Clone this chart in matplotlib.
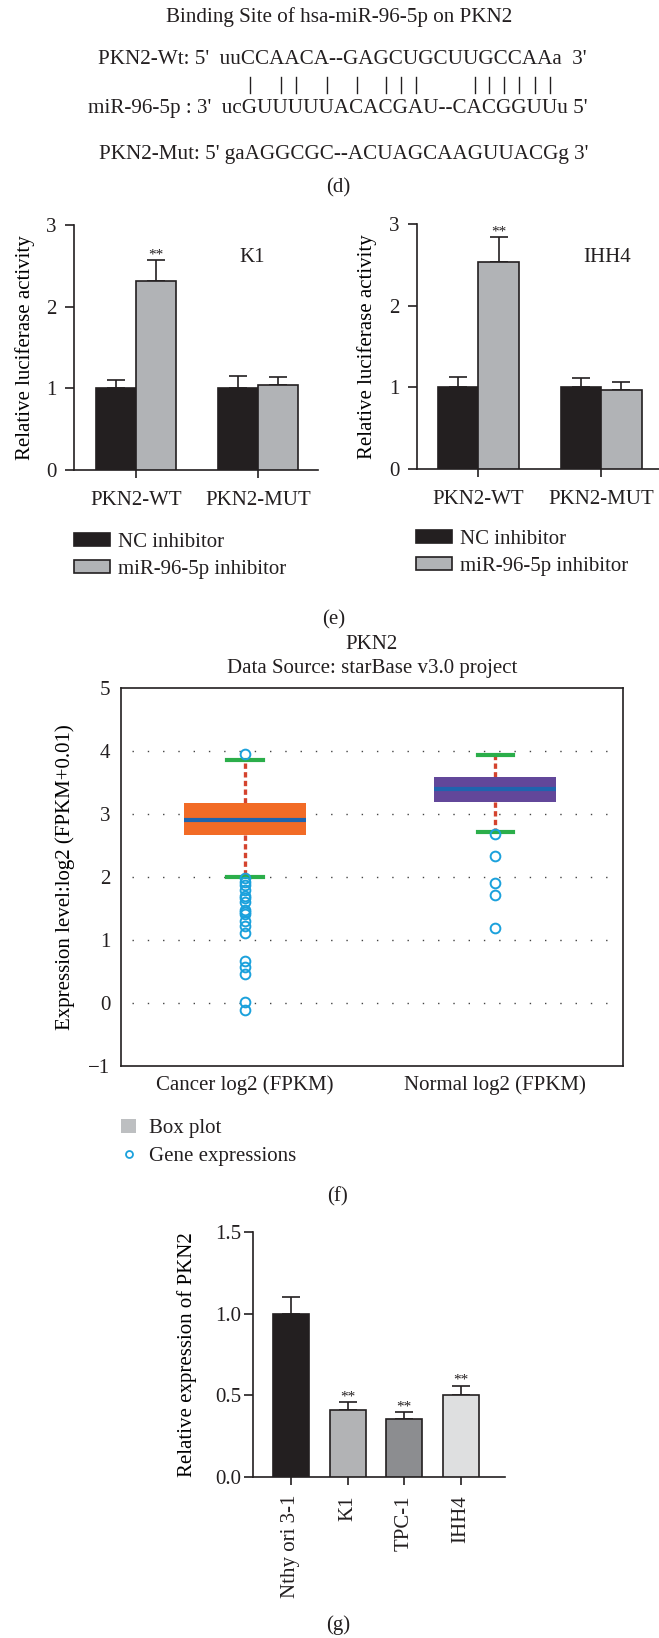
import matplotlib
matplotlib.use('Agg')
import matplotlib.pyplot as plt
from matplotlib.patches import Patch
from matplotlib.lines import Line2D
import numpy as np

# ---------------- data ----------------
d_title = "Binding Site of hsa-miR-96-5p on PKN2"
d_wt = "PKN2-Wt: 5'  uuCCAACA--GAGCUGCUUGCCAAa  3'"
d_mir_seq = "ucGUUUUUACACGAU--CACGGUUu"
d_mir = "miR-96-5p : 3'  " + d_mir_seq + " 5'"
d_mut = "PKN2-Mut: 5' gaAGGCGC--ACUAGCAAGUUACGg 3'"
d_pairs = [2, 4, 5, 7, 9, 11, 12, 13, 18, 19, 20, 21, 22, 23]  # paired bases of miR

e_groups = ['PKN2-WT', 'PKN2-MUT']
e_series = ['NC inhibitor', 'miR-96-5p inhibitor']
k1_nc = [1.00, 1.00]
k1_nc_err = [0.10, 0.15]
k1_inh = [2.31, 1.04]
k1_inh_err = [0.26, 0.10]
ihh4_nc = [1.00, 1.00]
ihh4_nc_err = [0.13, 0.12]
ihh4_inh = [2.53, 0.97]
ihh4_inh_err = [0.31, 0.10]

f_labels = ['Cancer log2 (FPKM)', 'Normal log2 (FPKM)']
f_q1 = [2.67, 3.19]
f_med = [2.90, 3.40]
f_q3 = [3.17, 3.59]
f_whislo = [2.00, 2.71]
f_whishi = [3.86, 3.94]
f_fliers_cancer = [3.96, 1.98, 1.92, 1.87, 1.79, 1.70, 1.66, 1.60, 1.48, 1.45,
                   1.42, 1.30, 1.22, 1.11, 0.67, 0.57, 0.46, 0.01, -0.11]
f_fliers_normal = [2.68, 2.33, 1.91, 1.72, 1.19]

g_cells = ['Nthy ori 3-1', 'K1', 'TPC-1', 'IHH4']
g_vals = [1.00, 0.41, 0.355, 0.50]
g_err = [0.10, 0.05, 0.045, 0.06]
g_sig = ['', '**', '**', '**']

# ---------------- style ----------------
W, H = 659, 1638
FS = 15
FS_D = 15.2
FS_STAR = 11
INK = '#231F20'
BLACK = '#231F20'
GRAY = '#B1B3B6'
plt.rcParams['font.family'] = ['Liberation Serif', 'DejaVu Serif']
plt.rcParams['text.color'] = INK
plt.rcParams['axes.edgecolor'] = INK
plt.rcParams['xtick.color'] = INK
plt.rcParams['ytick.color'] = INK
plt.rcParams['font.size'] = FS

fig = plt.figure(figsize=(W / 100, H / 100), dpi=100)


def rect(l, t, r, b):
    return [l / W, 1 - b / H, (r - l) / W, (b - t) / H]


def fx(x):
    return x / W


def fy(y):
    return 1 - y / H


# ---------------- panel d ----------------
fig.text(fx(339), fy(17), d_title, ha='center', va='center', fontsize=FS_D)
fig.text(fx(587), fy(60), d_wt, ha='right', va='center', fontsize=FS_D)
t_mir = fig.text(fx(588), fy(108), d_mir, ha='right', va='center', fontsize=FS_D)
fig.text(fx(588), fy(155), d_mut, ha='right', va='center', fontsize=FS_D)
fig.text(fx(338), fy(188), '(d)', ha='center', va='center', fontsize=FS)

fig.canvas.draw()
rend = fig.canvas.get_renderer()
bb = t_mir.get_window_extent(rend)
fp = t_mir.get_fontproperties()
start = d_mir.index(d_mir_seq)


def tw(s):
    return rend.get_text_width_height_descent(s, fp, ismath=False)[0]


for idx in d_pairs:
    xa = tw(d_mir[:start + idx])
    xb = tw(d_mir[:start + idx + 1])
    xc = (bb.x0 + (xa + xb) / 2) / fig.bbox.width
    fig.add_artist(Line2D([xc, xc], [fy(77), fy(93)], color=INK, lw=1.0,
                          transform=fig.transFigure))


# ---------------- panel e ----------------
def lucif(axrect, xlim, nc, nc_err, inh, inh_err, cell, cell_xy, label_x, leg_xy):
    ax = fig.add_axes(axrect)
    x = np.arange(len(e_groups))
    w = 0.328
    b1 = ax.bar(x - w / 2, nc, w, color=BLACK, edgecolor=INK, lw=1.2, label=e_series[0], zorder=3)
    b2 = ax.bar(x + w / 2, inh, w, color=GRAY, edgecolor=INK, lw=1.2, label=e_series[1], zorder=3)
    ax.errorbar(x - w / 2, nc, yerr=[np.zeros(len(nc)), nc_err], fmt='none', ecolor=INK,
                elinewidth=1.2, capsize=6.8, capthick=1.2, zorder=2)
    ax.errorbar(x + w / 2, inh, yerr=[np.zeros(len(inh)), inh_err], fmt='none', ecolor=INK,
                elinewidth=1.2, capsize=6.8, capthick=1.2, zorder=2)
    ax.text(x[0] + w / 2, inh[0] + inh_err[0] + 0.063, '**', ha='center', va='center',
            fontsize=FS_STAR)
    ax.set_ylim(0, 3)
    ax.set_xlim(*xlim)
    ax.set_yticks([0, 1, 2, 3])
    ax.set_xticks(x)
    ax.set_xticklabels(e_groups, fontsize=FS)
    for s in ['top', 'right']:
        ax.spines[s].set_visible(False)
    for s in ['left', 'bottom']:
        ax.spines[s].set_linewidth(1.2)
    ax.tick_params(axis='y', length=6.5, width=1.2, pad=6, labelsize=FS)
    ax.tick_params(axis='x', length=6, width=1.2, pad=9, labelsize=FS)
    ax.set_ylabel('Relative luciferase activity', fontsize=FS, va='center')
    ax.yaxis.set_label_coords(label_x, 0.5)
    fig.text(fx(cell_xy[0]), fy(cell_xy[1]), cell, ha='center', va='center', fontsize=FS)
    ax.legend(handles=[b1, b2], labels=e_series, loc='upper left',
              bbox_to_anchor=(fx(leg_xy[0]), fy(leg_xy[1])), bbox_transform=fig.transFigure,
              frameon=False, fontsize=FS, handlelength=1.73, handleheight=0.58,
              handletextpad=0.38, labelspacing=0.37, borderpad=0, borderaxespad=0)
    return ax


lucif(rect(74, 225, 318, 470), (-0.51, 1.49), k1_nc, k1_nc_err, k1_inh, k1_inh_err,
      'K1', (252, 258), (25 - 74) / 244, (74, 533))
lucif(rect(417, 224, 659, 469), (-0.5, 1.47), ihh4_nc, ihh4_nc_err, ihh4_inh, ihh4_inh_err,
      'IHH4', (607, 258), (367 - 417) / 242, (416, 530))
fig.text(fx(334), fy(620), '(e)', ha='center', va='center', fontsize=FS)

# ---------------- panel f ----------------
axf = fig.add_axes(rect(121, 688, 623, 1066))
fliers = [f_fliers_cancer, f_fliers_normal]
stats = []
for i in range(2):
    stats.append(dict(med=f_med[i], q1=f_q1[i], q3=f_q3[i], whislo=f_whislo[i],
                      whishi=f_whishi[i], fliers=fliers[i], label=f_labels[i]))
bp = axf.bxp(stats, positions=[1, 2], widths=0.49, patch_artist=True, capwidths=0.14,
             boxprops=dict(linewidth=0),
             medianprops=dict(color='#1F64AE', linewidth=3),
             whiskerprops=dict(color='#D4432E', linewidth=2.4, linestyle=(0, (1.6, 1.0))),
             capprops=dict(color='#2BAE4A', linewidth=3),
             flierprops=dict(marker='o', markerfacecolor='none', markeredgecolor='#1BA1DC',
                             markersize=7, markeredgewidth=1.4, linestyle='none'))
for patch, col in zip(bp['boxes'], ['#F26B26', '#62479A']):
    patch.set_facecolor(col)
    patch.set_edgecolor(col)
for wh in bp['whiskers']:
    wh.set_zorder(1.5)
axf.set_xlim(0.504, 2.512)
axf.set_ylim(-1, 5)
axf.set_yticks(range(-1, 6))
axf.hlines([0, 1, 2, 3, 4], 0.022, 0.985, transform=axf.get_yaxis_transform(),
           colors='#444444', linestyles=(0, (1, 10)), linewidth=1.0, zorder=0)
axf.tick_params(axis='both', length=0, labelsize=FS)
axf.tick_params(axis='y', pad=7.5)
axf.tick_params(axis='x', pad=7)
for s in axf.spines.values():
    s.set_linewidth(1.2)
axf.set_ylabel('Expression level:log2 (FPKM+0.01)', fontsize=FS, va='center')
axf.yaxis.set_label_coords((65 - 121) / 502, 0.5)
fig.text(fx(372), fy(645), 'PKN2', ha='center', va='center', fontsize=FS)
fig.text(fx(372), fy(668), 'Data Source: starBase v3.0 project', ha='center', va='center',
         fontsize=FS)
fig.legend(handles=[Patch(facecolor='#BDBFC1', edgecolor='none'),
                    Line2D([], [], marker='o', ls='none', mfc='none', mec='#1BA1DC', ms=5, mew=1.3)],
           labels=['Box plot', 'Gene expressions'], loc='upper left',
           bbox_to_anchor=(fx(121), fy(1118.5)), frameon=False, fontsize=FS,
           handlelength=0.72, handleheight=0.72, handletextpad=0.62, labelspacing=0.4,
           borderpad=0, borderaxespad=0)
fig.text(fx(338), fy(1197), '(f)', ha='center', va='center', fontsize=FS)

# ---------------- panel g ----------------
axg = fig.add_axes(rect(253, 1232, 505, 1477))
xg = np.arange(len(g_cells))
g_colors = ['#231F20', '#B2B3B5', '#8C8D90', '#DEDFE0']
axg.bar(xg, g_vals, 0.635, color=g_colors, edgecolor=INK, lw=1.2, zorder=3)
axg.errorbar(xg, g_vals, yerr=[np.zeros(len(g_vals)), g_err], fmt='none', ecolor=INK,
             elinewidth=1.2, capsize=6.8, capthick=1.2, zorder=2)
for xi, v, e, s in zip(xg, g_vals, g_err, g_sig):
    if s:
        axg.text(xi, v + e + 0.031, s, ha='center', va='center', fontsize=FS_STAR)
axg.set_ylim(0, 1.5)
axg.set_xlim(-0.67, 3.78)
axg.set_yticks([0, 0.5, 1.0, 1.5])
axg.set_yticklabels(['0.0', '0.5', '1.0', '1.5'])
axg.set_xticks(xg)
axg.set_xticklabels(g_cells, rotation=90, va='top', ha='center')
for s in ['top', 'right']:
    axg.spines[s].set_visible(False)
for s in ['left', 'bottom']:
    axg.spines[s].set_linewidth(1.2)
axg.tick_params(axis='y', length=6.5, width=1.2, pad=2, labelsize=FS)
axg.tick_params(axis='x', length=6, width=1.2, pad=7, labelsize=FS)
axg.set_ylabel('Relative expression of PKN2', fontsize=FS, va='center')
axg.yaxis.set_label_coords((187 - 253) / 252, 0.5)
fig.text(fx(338), fy(1625), '(g)', ha='center', va='center', fontsize=FS)

fig.savefig('out.png', dpi=100)
